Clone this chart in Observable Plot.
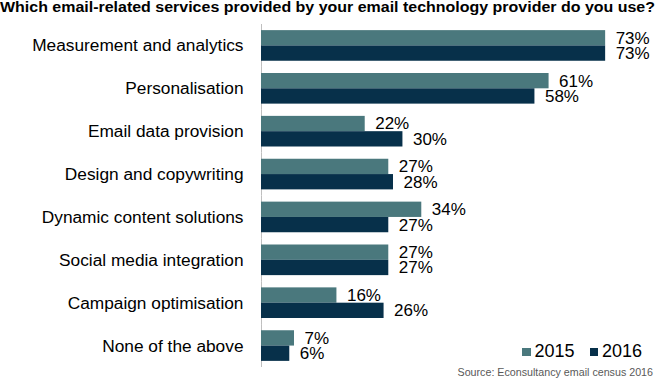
<!DOCTYPE html>
<html>
<head>
<meta charset="utf-8">
<script src="https://cdn.jsdelivr.net/npm/d3@7"></script>
<script src="https://cdn.jsdelivr.net/npm/@observablehq/plot@0.6"></script>
<style>
  html, body { margin: 0; padding: 0; background: #fff; }
  body { font-family: "Liberation Sans", Arial, sans-serif; }
  #wrap { position: relative; width: 657px; height: 384px; overflow: hidden; }
  #title { position: absolute; left: 0; top: 0; font-weight: bold; font-size: 14.5px; line-height: 14.5px; color: #000; white-space: nowrap; transform-origin: 0 0; }
  #chart { position: absolute; left: 0; top: 0; }
  #legend { position: absolute; left: 522px; top: 341px; font-size: 18px; line-height: 21px; color: #000; white-space: nowrap; }
  #legend span.sw { display: inline-block; width: 8.5px; height: 8px; margin-right: 4px; vertical-align: 1.5px; }
  #legend span.item { margin-right: 15px; }
  #source { position: absolute; right: 4px; top: 366px; font-size: 10.7px; color: #595959; white-space: nowrap; }
</style>
</head>
<body>
<div id="wrap">
  <div id="chart"></div>
  <div id="title"></div>
  <div id="legend"></div>
  <div id="source"></div>
</div>
<script>
const titleText = "Which email-related services provided by your email technology provider do you use?";
const sourceText = "Source: Econsultancy email census 2016";
const categories = [
  "Measurement and analytics",
  "Personalisation",
  "Email data provision",
  "Design and copywriting",
  "Dynamic content solutions",
  "Social media integration",
  "Campaign optimisation",
  "None of the above"
];
const years = ["2015", "2016"];
const values2015 = [73, 61, 22, 27, 34, 27, 16, 7];
const values2016 = [73, 58, 30, 28, 27, 27, 26, 6];
const colors = ["#4a787d", "#07304a"];

const data = [];
categories.forEach((c, i) => {
  data.push({category: c, year: years[0], value: values2015[i]});
  data.push({category: c, year: years[1], value: values2016[i]});
});

const font = '"Liberation Sans", Arial, sans-serif';

const chart = Plot.plot({
  width: 657,
  height: 384,
  marginLeft: 261,
  marginRight: 0,
  marginTop: 24,
  marginBottom: 17,
  style: {fontFamily: font, background: "transparent", overflow: "visible"},
  x: {domain: [0, 84], axis: null},
  y: {domain: years, axis: null, paddingInner: 0, paddingOuter: 0.4, round: false},
  fy: {domain: categories, padding: 0, label: null, round: false},
  color: {domain: years, range: colors},
  marks: [
    Plot.axisFy({anchor: "left", tickSize: 0, tickPadding: 18, fontSize: 17.3, fill: "#000", label: null}),
    Plot.ruleX([0], {stroke: "#bfbfbf", strokeWidth: 1}),
    Plot.barX(data, {x: "value", y: "year", fy: "category", fill: "year"}),
    Plot.text(data, {x: "value", y: "year", fy: "category", text: d => d.value + "%", textAnchor: "start", dx: 10, fontSize: 17, fill: "#000"})
  ]
});
document.getElementById("chart").appendChild(chart);
const titleEl = document.getElementById("title");
titleEl.textContent = titleText;
const tw = titleEl.getBoundingClientRect().width;
if (tw > 0) titleEl.style.transform = "scaleX(" + (655 / tw) + ")";
document.getElementById("source").textContent = sourceText;
const leg = document.getElementById("legend");
years.forEach((y, i) => {
  const item = document.createElement("span");
  item.className = "item";
  const sw = document.createElement("span");
  sw.className = "sw";
  sw.style.background = colors[i];
  item.appendChild(sw);
  item.appendChild(document.createTextNode(y));
  leg.appendChild(item);
});
</script>
</body>
</html>
